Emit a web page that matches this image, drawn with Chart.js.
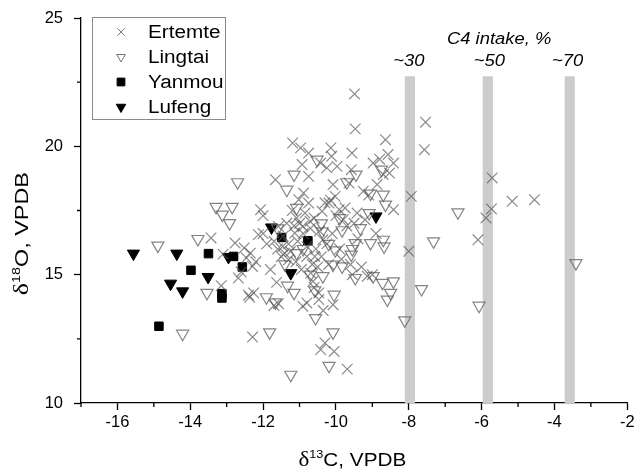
<!DOCTYPE html>
<html>
<head>
<meta charset="utf-8">
<script src="https://cdn.jsdelivr.net/npm/chart.js@4/dist/chart.umd.min.js"></script>
<style>
  html, body { margin: 0; padding: 0; background: #fff; }
  #wrap { width: 636px; height: 475px; }
</style>
</head>
<body>
<div id="wrap"><canvas id="chart" width="636" height="475"></canvas></div>
<script>
// data - [d13C, d18O]
var ertemte = [
  [-13.43,16.43],[-13.15,14.57],[-13.1,15.8],[-12.77,16.23],[-12.68,14.87],[-12.6,15.1],[-12.52,16.04],
  [-12.46,15.65],[-12.35,15.84],[-12.29,15.32],[-12.29,12.57],[-12.26,14.29],[-12.37,14.12],[-12.13,16.56],
  [-12.07,17.53],[-12.0,17.3],[-11.66,18.70],[-11.63,14.70],[-11.58,13.87],[-11.58,16.88],[-11.46,16.10],
  [-11.41,15.84],[-11.30,15.58],[-11.19,20.13],[-11.13,16.62],[-11.08,17.21],[-11.02,17.92],[-10.97,19.94],
  [-10.93,19.29],[-10.89,18.18],[-10.91,16.88],[-10.80,15.71],[-10.75,19.74],[-10.75,18.83],[-10.75,17.79],
  [-10.71,17.08],[-10.69,15.06],[-10.63,14.74],[-10.91,13.77],[-10.80,13.90],[-10.58,15.71],[-10.47,14.29],
  [-10.47,14.03],[-10.42,19.35],[-10.38,17.47],[-10.36,16.36],[-10.30,12.34],[-10.42,12.08],[-10.25,19.16],
  [-10.19,17.79],[-10.14,19.94],[-10.12,19.61],[-10.08,18.51],[-10.05,12.01],[-10.08,13.83],[-10.02,18.05],
  [-9.97,19.22],[-9.91,17.53],[-9.80,17.14],[-9.69,11.32],[-9.64,18.57],[-9.58,19.09],[-9.56,19.74],
  [-9.49,22.04],[-9.47,20.68],[-9.42,17.40],[-9.25,18.25],[-9.20,17.14],[-9.14,14.94],[-8.98,19.35],
  [-8.87,18.51],[-8.64,20.26],[-8.57,19.68],[-8.53,18.96],[-8.42,19.35],[-8.42,17.53],[-8.0,15.91],
  [-7.93,18.05],[-7.57,19.87],[-7.54,20.94],[-6.10,16.36],[-5.88,17.21],[-5.73,17.56],[-5.71,18.77],
  [-5.16,17.86],[-4.55,17.92],
  [-11.7,16.3],[-11.6,16.0],[-11.5,15.7],[-11.45,16.5],[-11.35,17.0],[-11.3,16.2],[-11.25,15.9],[-11.2,17.5],
  [-11.15,16.9],[-11.1,15.5],[-11.05,16.3],[-11.0,17.0],[-10.95,15.2],[-10.9,16.6],[-10.85,17.4],[-10.8,16.1],
  [-10.7,16.8],[-10.65,15.4],[-10.6,17.2],[-10.55,16.0],[-10.5,15.3],[-10.45,16.7],[-10.4,15.7],[-10.3,17.8],
  [-10.25,16.2],[-10.2,15.4],[-10.15,17.9],[-10.1,16.6],[-10.0,17.3],[-9.9,16.0],[-9.85,15.6],[-9.75,17.6],
  [-9.7,16.9],[-9.6,15.4],[-9.5,17.0],[-9.4,16.4],[-9.3,15.3],[-9.1,18.1],[-9.0,15.0],[-8.9,16.6],
  [-8.8,19.5],[-8.7,18.9],[-11.9,16.2],[-12.0,16.6],[-11.8,15.2],[-12.2,15.5],[-12.4,14.2],[-11.7,13.8],
  [-10.35,13.6],[-10.6,14.5],[-9.55,15.0]
];
var lingtai = [
  [-14.89,16.13],[-14.21,12.70],[-13.79,16.39],[-13.54,14.29],[-13.29,17.64],[-13.12,17.34],[-12.92,17.01],
  [-12.85,17.64],[-12.70,18.60],[-11.91,14.12],[-11.82,12.75],[-11.66,13.92],[-11.35,18.31],[-11.33,14.57],
  [-11.24,11.10],[-11.15,18.90],[-11.15,14.29],[-11.08,17.60],[-11.08,15.84],[-10.52,19.48],[-10.56,13.31],
  [-10.58,14.39],[-10.38,16.69],[-10.36,14.94],[-10.19,11.45],[-10.08,12.75],[-10.05,14.22],[-10.02,15.95],
  [-10.08,15.39],[-9.83,16.73],[-9.83,15.32],[-9.58,15.78],[-9.55,16.00],[-9.47,14.87],[-9.45,18.90],
  [-9.47,16.23],[-9.33,16.81],[-9.05,18.16],[-9.09,17.40],[-9.05,16.23],[-8.98,14.94],[-8.75,19.09],
  [-8.70,18.12],[-8.64,17.73],[-8.70,16.36],[-8.68,16.10],[-8.72,14.68],[-8.59,14.03],[-8.50,14.29],
  [-8.42,14.74],[-8.11,13.22],[-7.65,14.44],[-7.32,16.30],[-6.65,17.43],[-6.07,13.79],[-3.41,15.45],
  [-11.6,16.8],[-11.4,15.4],[-10.9,16.0],[-10.7,15.0],[-10.4,17.0],[-10.2,16.2],[-9.9,17.2],[-9.7,18.6]
];
var yanmou = [
  [-14.86,12.99],[-13.98,15.17],[-13.50,15.82],[-13.13,14.26],[-13.13,14.09],[-12.81,15.71],[-12.57,15.30],
  [-11.49,16.45],[-10.77,16.32]
];
var lufeng = [
  [-15.56,15.82],[-14.37,15.82],[-14.54,14.65],[-14.21,14.35],[-13.51,14.91],[-12.95,15.69],[-11.77,16.84],
  [-11.24,15.06],[-8.90,17.27]
];
// C4 intake bands
var bandCenters = [-7.97, -5.83, -3.58];
var bandLabels = ['~30', '~50', '~70'];
var bandLabelX = [-8.0, -5.79, -3.64];
var bandHalfWidth = 0.14;
var bandTop = 22.73;
var xTicks = [-16, -14, -12, -10, -8, -6, -4, -2];
var yTicks = [10, 15, 20, 25];

var SANS = '"Liberation Sans", Arial, sans-serif';
var SERIF = '"Liberation Serif", "Times New Roman", serif';
var STRETCH = 1.15; // reference text is a bit wide

function toPts(arr) {
  return arr.map(function(p) { return {x: p[0], y: p[1]}; });
}

// draws a row of text pieces (for superscripts) centred on 0,0
function drawPieces(ctx, pieces) {
  var total = 0;
  pieces.forEach(function(p) { ctx.font = p.font; p.w = ctx.measureText(p.t).width; total += p.w; });
  var x = -total / 2;
  ctx.textAlign = 'left';
  ctx.textBaseline = 'alphabetic';
  pieces.forEach(function(p) { ctx.font = p.font; ctx.fillText(p.t, x, p.dy); x += p.w; });
}

function wideText(ctx, t, x, y, font, align) {
  ctx.save();
  ctx.translate(x, y);
  ctx.scale(STRETCH, 1);
  ctx.font = font;
  ctx.textAlign = align;
  ctx.textBaseline = 'middle';
  ctx.fillText(t, 0, 0);
  ctx.restore();
}

var extras = {
  id: 'extras',
  beforeDatasetsDraw: function(chart) {
    var ctx = chart.ctx, xs = chart.scales.x, ys = chart.scales.y;
    ctx.save();
    ctx.fillStyle = '#cccccc';
    bandCenters.forEach(function(c) {
      var l = xs.getPixelForValue(c - bandHalfWidth);
      var r = xs.getPixelForValue(c + bandHalfWidth);
      var t = ys.getPixelForValue(bandTop);
      var b = ys.getPixelForValue(10);
      ctx.fillRect(l, t, r - l, b - t);
    });
    ctx.fillStyle = '#000';
    bandCenters.forEach(function(c, i) {
      wideText(ctx, bandLabels[i], xs.getPixelForValue(bandLabelX[i]), ys.getPixelForValue(23.3),
               'italic 16px ' + SANS, 'center');
    });
    wideText(ctx, 'C4 intake, %', xs.getPixelForValue(-5.52), ys.getPixelForValue(24.16),
             'italic 16px ' + SANS, 'center');
    ctx.restore();
  },
  afterDraw: function(chart) {
    var ctx = chart.ctx, xs = chart.scales.x, ys = chart.scales.y;
    ctx.save();
    // minor ticks
    ctx.strokeStyle = '#000';
    ctx.lineWidth = 1.3;
    ctx.beginPath();
    for (var v = -17; v <= -3; v += 2) {
      var px = xs.getPixelForValue(v);
      ctx.moveTo(px, ys.bottom); ctx.lineTo(px, ys.bottom + 4);
    }
    [12.5, 17.5, 22.5].forEach(function(v) {
      var py = ys.getPixelForValue(v);
      ctx.moveTo(xs.left, py); ctx.lineTo(xs.left - 4, py);
    });
    ctx.stroke();

    // axis titles
    ctx.fillStyle = '#000';
    ctx.save();
    ctx.translate(xs.getPixelForValue(-9.55), 466);
    ctx.scale(STRETCH, 1);
    drawPieces(ctx, [
      {t: 'δ', font: '20px ' + SERIF, dy: 0},
      {t: '13', font: '11px ' + SANS, dy: -8},
      {t: 'C, VPDB', font: '18px ' + SANS, dy: 0}
    ]);
    ctx.restore();
    ctx.save();
    ctx.translate(28, ys.getPixelForValue(16.6));
    ctx.rotate(-Math.PI / 2);
    ctx.scale(1.3, 1);
    drawPieces(ctx, [
      {t: 'δ', font: '20px ' + SERIF, dy: 0},
      {t: '18', font: '11px ' + SANS, dy: -8},
      {t: 'O, VPDB', font: '18px ' + SANS, dy: 0}
    ]);
    ctx.restore();

    // legend box
    var lx = 92, ly = 17, lw = 133, lh = 102;
    ctx.lineWidth = 1;
    ctx.strokeStyle = '#8a8a8a';
    ctx.fillStyle = '#fff';
    ctx.fillRect(lx, ly, lw, lh);
    ctx.strokeRect(lx + 0.5, ly + 0.5, lw, lh);
    var items = [
      {t: 'Ertemte', style: 'crossRot', r: 5, rot: 0, stroke: '#777', fill: 'rgba(0,0,0,0)'},
      {t: 'Lingtai', style: 'triangle', r: 5, rot: 180, stroke: '#777', fill: 'rgba(0,0,0,0)'},
      {t: 'Yanmou', style: 'rect', r: 5.5, rot: 0, stroke: '#000', fill: '#000'},
      {t: 'Lufeng', style: 'triangle', r: 5.5, rot: 180, stroke: '#000', fill: '#000'}
    ];
    items.forEach(function(it, i) {
      var cy = ly + 15 + i * 25;
      ctx.strokeStyle = it.stroke;
      ctx.fillStyle = it.fill;
      ctx.lineWidth = 1;
      Chart.helpers.drawPoint(ctx, {pointStyle: it.style, radius: it.r, rotation: it.rot, borderWidth: 1}, 121, cy);
      ctx.fillStyle = '#000';
      wideText(ctx, it.t, 148, cy + 1, '18px ' + SANS, 'left');
    });
    ctx.restore();
  }
};

var ctx = document.getElementById('chart').getContext('2d');
var chart = new Chart(ctx, {
  type: 'scatter',
  data: {
    datasets: [
      {label: 'Ertemte', data: toPts(ertemte), pointStyle: 'crossRot', pointRadius: 7.5,
       borderColor: 'rgba(90,90,90,0.7)', backgroundColor: 'rgba(0,0,0,0)', borderWidth: 1.2},
      {label: 'Lingtai', data: toPts(lingtai), pointStyle: 'triangle', rotation: 180, pointRadius: 7,
       borderColor: 'rgba(110,110,110,0.85)', backgroundColor: 'rgba(255,255,255,0)', borderWidth: 1.2},
      {label: 'Yanmou', data: toPts(yanmou), pointStyle: 'rect', pointRadius: 6,
       borderColor: '#000', backgroundColor: '#000', borderWidth: 1},
      {label: 'Lufeng', data: toPts(lufeng), pointStyle: 'triangle', rotation: 180, pointRadius: 7,
       borderColor: '#000', backgroundColor: '#000', borderWidth: 1}
    ]
  },
  options: {
    responsive: false,
    animation: false,
    events: [],
    layout: {padding: {left: 0, top: 18, right: 5, bottom: 0}},
    plugins: {legend: {display: false}, tooltip: {enabled: false}},
    scales: {
      x: {
        type: 'linear', min: -17, max: -2,
        afterBuildTicks: function(s) { s.ticks = xTicks.map(function(v) { return {value: v}; }); },
        afterFit: function(s) { s.height = 72; s.paddingLeft = 0; s.paddingRight = 0; },
        border: {display: true, color: '#000', width: 1.3},
        grid: {display: true, drawOnChartArea: false, drawTicks: true, tickLength: 7, tickColor: '#000', tickWidth: 1.3},
        ticks: {color: '#000', padding: 3, maxRotation: 0, font: {family: SANS, size: 16.5}},
        title: {display: false}
      },
      y: {
        type: 'linear', min: 10, max: 25,
        afterBuildTicks: function(s) { s.ticks = yTicks.map(function(v) { return {value: v}; }); },
        afterFit: function(s) { s.width = 81; s.paddingTop = 0; s.paddingBottom = 0; },
        border: {display: true, color: '#000', width: 1.3},
        grid: {display: true, drawOnChartArea: false, drawTicks: true, tickLength: 7, tickColor: '#000', tickWidth: 1.3},
        ticks: {color: '#000', padding: 11, font: {family: SANS, size: 16.5}},
        title: {display: false}
      }
    }
  },
  plugins: [extras]
});
</script>
</body>
</html>
